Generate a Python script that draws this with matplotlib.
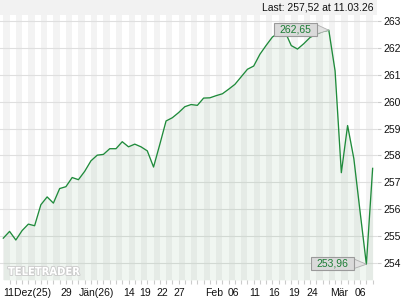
import matplotlib
matplotlib.use("Agg")
import matplotlib.pyplot as plt
import matplotlib.patheffects as pe
from matplotlib.patches import Rectangle, Polygon
from matplotlib.transforms import IdentityTransform
import numpy as np

plt.rcParams['font.family'] = ['Liberation Sans', 'DejaVu Sans']

# ---- data ----
values = [254.93, 255.18, 254.86, 255.21, 255.45, 255.39, 256.17, 256.46, 256.23, 256.77,
          256.84, 257.18, 257.10, 257.41, 257.80, 258.01, 258.04, 258.25, 258.25, 258.51,
          258.32, 258.42, 258.32, 258.17, 257.57, 258.41, 259.28, 259.40, 259.59, 259.81,
          259.89, 259.86, 260.13, 260.14, 260.22, 260.29, 260.46, 260.64, 260.92, 261.20,
          261.32, 261.76, 262.09, 262.40, 262.55, 262.60, 262.08, 261.95, 262.15, 262.38,
          262.50, 262.60, 262.65, 261.14, 257.36, 259.11, 257.88, 255.90, 253.96, 257.52]
tick_pos = [0, 9.05, 12.1, 19.1, 21.7, 24.4, 27.1, 32.2, 35.9, 39.25, 42.3, 45.5, 48.4, 52.2, 56.2]
tick_labels = ["11Dez(25)", "29", "Jän(26)", "14", "19", "22", "27",
               "Feb", "06", "11", "16", "19", "24", "Mär", "06"]
y_ticks = [254, 255, 256, 257, 258, 259, 260, 261, 262, 263]
max_label = "262,65"
min_label = "253,96"
last_text = "Last: 257,52 at 11.03.26"

W, H = 420, 300
fig = plt.figure(figsize=(W / 100, H / 100), dpi=100)
fig.patch.set_facecolor('white')

ax_left, ax_right, ax_top, ax_bottom = 0, 376.7, 15, 280
ax = fig.add_axes([ax_left / W, 1 - ax_bottom / H, (ax_right - ax_left) / W, (ax_bottom - ax_top) / H])
ax.set_facecolor('white')

x = np.arange(len(values))
ymin, ymax = 253.375, 263.215
ax.set_xlim(-0.53, 59.65)
ax.set_ylim(ymin, ymax)

# top band
fig.add_artist(Rectangle((0, (H - ax_top) / H), ax_right / W, ax_top / H,
                         transform=fig.transFigure, fc='#f2f2f2', ec='none', zorder=0))

# stripes
for i in range(0, len(values), 2):
    ax.axvspan(i, i + 1, color='#f3f3f3', lw=0, zorder=0)

ax.set_yticks(y_ticks)
ax.grid(axis='y', color='#dfdfdf', lw=0.8, zorder=1)
ax.set_axisbelow(True)

ax.fill_between(x, values, ymin, color='#3a8f45', alpha=0.075, lw=0, zorder=2)
ax.plot(x, values, color='#1f8b3b', lw=0.95, zorder=3)

for s in ax.spines.values():
    s.set_visible(False)

ax.yaxis.tick_right()
ax.tick_params(axis='y', length=3, width=0.8, color='#cccccc', labelsize=7.5, pad=1.5, labelcolor='#111111')
ax.set_xticks(tick_pos)
ax.set_xticklabels(tick_labels)
ax.set_xticks(x, minor=True)
ax.tick_params(axis='x', which='minor', length=3, width=0.8, color='#cccccc', direction='out')
ax.tick_params(axis='x', which='major', length=0, labelsize=7.5, pad=6, labelcolor='#111111')
for lab in ax.get_xticklabels():
    lab.set_ha('left')

fig.text(374 / W, 1 - 7 / H, last_text, ha='right', va='center', fontsize=7.5, color='#111111')

# watermark
fig.text(8 / W, 1 - 277 / H, "TELETRADER", fontsize=8, fontweight='bold', color='white',
         family=['Liberation Sans Narrow', 'DejaVu Sans'], fontstretch='condensed',
         ha='left', va='bottom', zorder=4,
         path_effects=[pe.withStroke(linewidth=1.3, foreground='#cccccc')])


def callout(i, v, label, dy):
    px, py = ax.transData.transform((i, v))
    w, h, gap = 43, 13, 12
    x1 = px - gap
    x0 = x1 - w
    cy = py + dy
    tri = Polygon([(x1 - 1, cy + h / 2 - 1.5), (x1 - 1, cy - h / 2 + 1.5), (px, py)], closed=True,
                  transform=IdentityTransform(), fc='#e2e2e2', ec='#b0b0b0', lw=0.6, zorder=6)
    fig.add_artist(tri)
    rect = Rectangle((x0, cy - h / 2), w, h, transform=IdentityTransform(),
                     fc='#dadada', ec='#9a9a9a', lw=0.8, zorder=7)
    fig.add_artist(rect)
    fig.text((x0 + w / 2) / W, cy / H, label, ha='center', va='center', fontsize=7.5,
             color='#1b7d34', zorder=8)


imax = int(np.argmax(values))
imin = int(np.argmin(values))
callout(imax, values[imax], max_label, 1)
callout(imin, values[imin], min_label, 0.5)

fig.savefig("out.png", dpi=100)
